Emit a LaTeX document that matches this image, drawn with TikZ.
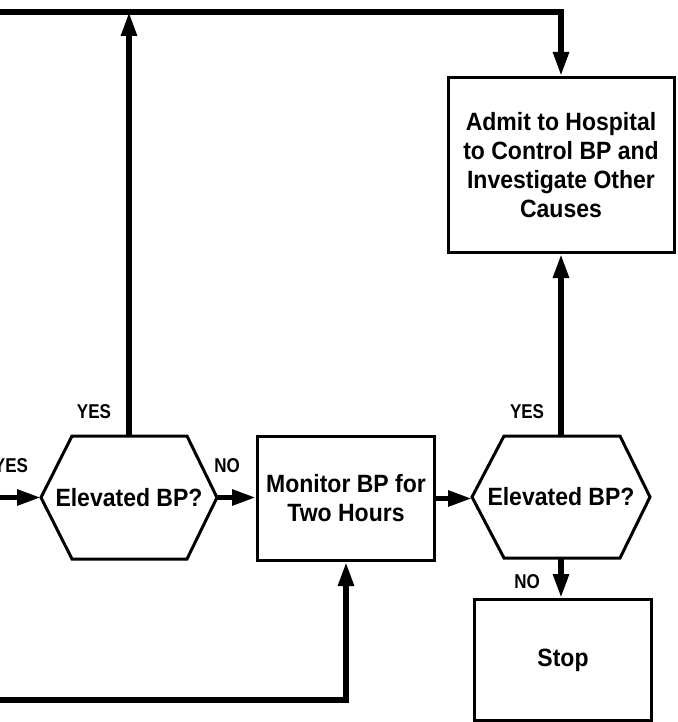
\documentclass[tikz,border=0pt]{standalone}
\usepackage{fontspec}
\setmainfont{Liberation Sans}[FakeStretch=0.92]
\newfontfamily\labfont{Liberation Sans}[FakeStretch=0.85]
\usetikzlibrary{arrows.meta,calc}
\begin{document}
\begin{tikzpicture}[x=1pt,y=-1pt,
  box/.style={draw, line width=3pt, rectangle, align=center, inner sep=0pt,
    font=\bfseries\fontsize{25}{29}\selectfont},
  hexnode/.style={rectangle, align=center, inner sep=0pt, outer sep=0pt,
    font=\bfseries\fontsize{25}{29}\selectfont},
  hexline/.style={line width=3pt, line join=miter},
  conn/.style={line width=5.5pt, -{Triangle[length=24pt,width=15pt]}},
  lab/.style={font=\labfont\bfseries\fontsize{20}{22}\selectfont, inner sep=0pt}
]
\useasboundingbox (0,0) rectangle (677,722);
\clip (0,0) rectangle (677,722);

% nodes
\node[hexnode, minimum width=176, minimum height=123] (h1) at (129,497.5) {Elevated BP?};
\node[box, minimum width=177, minimum height=124] (mon) at (346,498.5) {Monitor BP for\\Two Hours};
\node[hexnode, minimum width=178, minimum height=122] (h2) at (561,497) {Elevated BP?};
\node[box, minimum width=226, minimum height=175] (adm) at (561,165) {Admit to Hospital\\to Control BP and\\Investigate Other\\Causes};
\node[box, minimum width=177, minimum height=121] (stop) at (563,660) {Stop};

% hexagon outlines
\draw[hexline] (h1.west) -- ($(h1.north west)+(31,0)$) -- ($(h1.north east)+(-30,0)$)
  -- (h1.east) -- ($(h1.south east)+(-30,0)$) -- ($(h1.south west)+(31,0)$) -- cycle;
\draw[hexline] (h2.west) -- ($(h2.north west)+(32,0)$) -- ($(h2.north east)+(-30,0)$)
  -- (h2.east) -- ($(h2.south east)+(-30,0)$) -- ($(h2.south west)+(32,0)$) -- cycle;

% free ends at the left edge
\coordinate (tl) at (0,12);
\coordinate (ml) at (0,497.5);
\coordinate (bl) at (0,700);

% connectors
\draw[conn] (tl) -- (tl -| adm.north) -- (adm.north);
\draw[conn] (h1.north) -- (h1.north |- tl);
\draw[conn] (ml) -- (h1.west);
\draw[conn] (h1.east) -- (h1.east -| mon.west);
\draw[conn] (mon.east) -- (mon.east -| h2.west);
\draw[conn] (h2.north) -- (h2.north |- adm.south);
\draw[conn] (h2.south) -- (h2.south |- stop.north);
\draw[conn] (bl) -- (bl -| mon.south) -- (mon.south);

% labels
\node[lab] (yes0) at (11,466) {YES};
\node[lab] (yes1) at (94,412) {YES};
\node[lab] (no1) at (227,466) {NO};
\node[lab] (yes2) at (527,412) {YES};
\node[lab] (no2) at (527,582) {NO};
\end{tikzpicture}
\end{document}
